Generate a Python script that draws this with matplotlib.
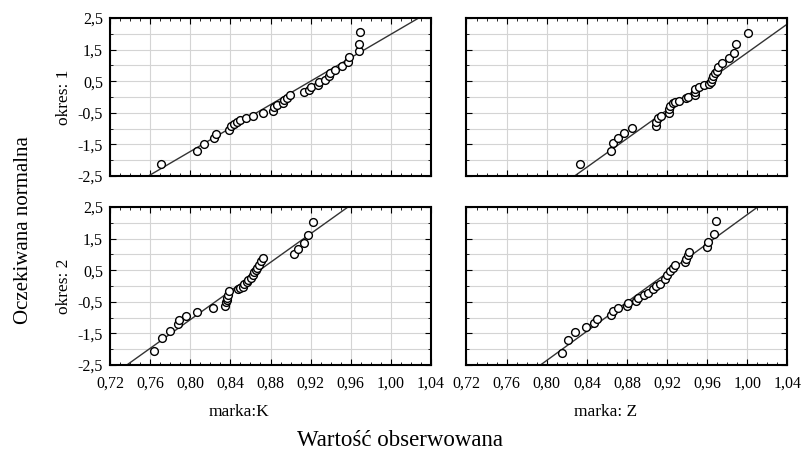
import numpy as np
import matplotlib
matplotlib.use("Agg")
import matplotlib.pyplot as plt
from matplotlib.ticker import MultipleLocator, FuncFormatter

plt.rcParams['font.family'] = ['Liberation Serif', 'DejaVu Serif']

# panel (okres 1, marka K)
k1_x = [0.771, 0.807, 0.814, 0.824, 0.826, 0.839, 0.841, 0.844, 0.847, 0.850,
        0.856, 0.863, 0.873, 0.882, 0.883, 0.886, 0.892, 0.893, 0.896, 0.899,
        0.913, 0.918, 0.920, 0.927, 0.928, 0.934, 0.938, 0.939, 0.944, 0.951,
        0.957, 0.958, 0.968, 0.968, 0.969]
k1_y = [-2.12, -1.71, -1.50, -1.29, -1.16, -1.04, -0.92, -0.85, -0.79, -0.73,
        -0.66, -0.59, -0.52, -0.43, -0.33, -0.25, -0.20, -0.09, -0.04, 0.06,
        0.15, 0.22, 0.31, 0.38, 0.48, 0.54, 0.66, 0.77, 0.85, 0.98,
        1.12, 1.26, 1.46, 1.67, 2.07]

# panel (okres 1, marka Z)
z1_x = [0.833, 0.864, 0.866, 0.871, 0.877, 0.885, 0.909, 0.909, 0.911, 0.914,
        0.922, 0.922, 0.923, 0.926, 0.928, 0.932, 0.939, 0.941, 0.948, 0.948,
        0.948, 0.952, 0.957, 0.962, 0.964, 0.965, 0.966, 0.968, 0.970, 0.971,
        0.975, 0.982, 0.987, 0.989, 1.001]
z1_y = [-2.12, -1.71, -1.47, -1.29, -1.13, -0.99, -0.91, -0.78, -0.67, -0.60,
        -0.50, -0.39, -0.28, -0.20, -0.17, -0.13, -0.04, 0.01, 0.06, 0.17,
        0.24, 0.33, 0.38, 0.42, 0.47, 0.57, 0.66, 0.75, 0.83, 0.96,
        1.09, 1.22, 1.40, 1.67, 2.04]

# panel (okres 2, marka K)
k2_x = [0.764, 0.772, 0.780, 0.788, 0.789, 0.796, 0.807, 0.823, 0.835, 0.836,
        0.837, 0.837, 0.838, 0.839, 0.848, 0.850, 0.853, 0.854, 0.857, 0.858,
        0.861, 0.863, 0.864, 0.866, 0.867, 0.869, 0.871, 0.873, 0.903, 0.907,
        0.913, 0.917, 0.922]
k2_y = [-2.07, -1.66, -1.41, -1.21, -1.07, -0.95, -0.83, -0.71, -0.63, -0.50,
        -0.44, -0.39, -0.29, -0.16, -0.11, -0.06, -0.02, 0.06, 0.13, 0.18,
        0.24, 0.35, 0.45, 0.52, 0.58, 0.68, 0.79, 0.90, 1.01, 1.16,
        1.35, 1.61, 2.03]

# panel (okres 2, marka Z)
z2_x = [0.815, 0.821, 0.828, 0.839, 0.847, 0.850, 0.864, 0.866, 0.871, 0.880,
        0.881, 0.889, 0.891, 0.897, 0.901, 0.906, 0.909, 0.913, 0.918, 0.920,
        0.923, 0.926, 0.928, 0.938, 0.939, 0.941, 0.942, 0.960, 0.961, 0.967,
        0.969]
z2_y = [-2.12, -1.70, -1.45, -1.31, -1.18, -1.04, -0.92, -0.79, -0.71, -0.62,
        -0.55, -0.47, -0.39, -0.29, -0.23, -0.11, -0.00, 0.06, 0.21, 0.35,
        0.47, 0.56, 0.66, 0.75, 0.87, 0.98, 1.08, 1.24, 1.40, 1.64,
        2.06]

# normal fit lines: mean, sd
fit_mu = [0.893, 0.938, 0.847, 0.902]
fit_sd = [0.0539, 0.0441, 0.0441, 0.0433]

panels = [(k1_x, k1_y), (z1_x, z1_y), (k2_x, k2_y), (z2_x, z2_y)]
x_ticks = [0.72, 0.76, 0.80, 0.84, 0.88, 0.92, 0.96, 1.00, 1.04]
y_ticks = [-2.5, -1.5, -0.5, 0.5, 1.5, 2.5]

W, H = 803, 459
fig = plt.figure(figsize=(W / 100, H / 100), dpi=100)

lefts = [110, 466.5]
tops = [18, 207]
pw, ph = 321, 158

comma = FuncFormatter(lambda v, p: f"{v:.2f}".replace('.', ','))
comma1 = FuncFormatter(lambda v, p: f"{v:.1f}".replace('.', ','))

for i, (xs, ys) in enumerate(panels):
    r, c = divmod(i, 2)
    ax = fig.add_axes([lefts[c] / W, 1 - (tops[r] + ph) / H, pw / W, ph / H])
    ax.set_xlim(0.72, 1.04)
    ax.set_ylim(-2.5, 2.5)
    ax.grid(True, which='major', axis='x', color='#d4d4d4', lw=0.8)
    ax.grid(True, which='both', axis='y', color='#d4d4d4', lw=0.8)
    ax.set_axisbelow(True)
    ax.axline((fit_mu[i], 0), slope=1 / fit_sd[i], color='#333333', lw=1.0, zorder=2)
    ax.plot(xs, ys, 'o', mfc='white', mec='black', ms=5.6, mew=1.0, zorder=3)

    ax.set_xticks(x_ticks)
    ax.xaxis.set_minor_locator(MultipleLocator(0.01))
    ax.set_yticks(y_ticks)
    ax.yaxis.set_minor_locator(MultipleLocator(0.5))
    ax.tick_params(which='major', direction='in', length=4, width=0.8,
                   top=True, right=True, labelsize=11.5)
    ax.tick_params(which='minor', direction='in', length=2, width=0.6,
                   top=True, right=True)
    ax.tick_params(axis='x', pad=8)
    ax.tick_params(axis='y', pad=5)
    for s in ax.spines.values():
        s.set_linewidth(1.5)

    if c == 0:
        ax.yaxis.set_major_formatter(comma1)
    else:
        ax.set_yticklabels([])
    if r == 1:
        ax.xaxis.set_major_formatter(comma)
    else:
        ax.set_xticklabels([])

fig.text(64 / W, 1 - 97 / H, "okres: 1", rotation=90, ha='center', va='center', fontsize=12.5)
fig.text(64 / W, 1 - 286 / H, "okres: 2", rotation=90, ha='center', va='center', fontsize=12.5)
fig.text(24 / W, 1 - 230 / H, "Oczekiwana normalna", rotation=90, ha='center', va='center', fontsize=15)
fig.text(239 / W, 1 - 412 / H, "marka:K", ha='center', va='center', fontsize=12.5)
fig.text(606 / W, 1 - 412 / H, "marka: Z", ha='center', va='center', fontsize=12.5)
fig.text(400 / W, 1 - 441 / H, "Wartość obserwowana", ha='center', va='center', fontsize=16.5)

fig.savefig("out.png", dpi=100)
